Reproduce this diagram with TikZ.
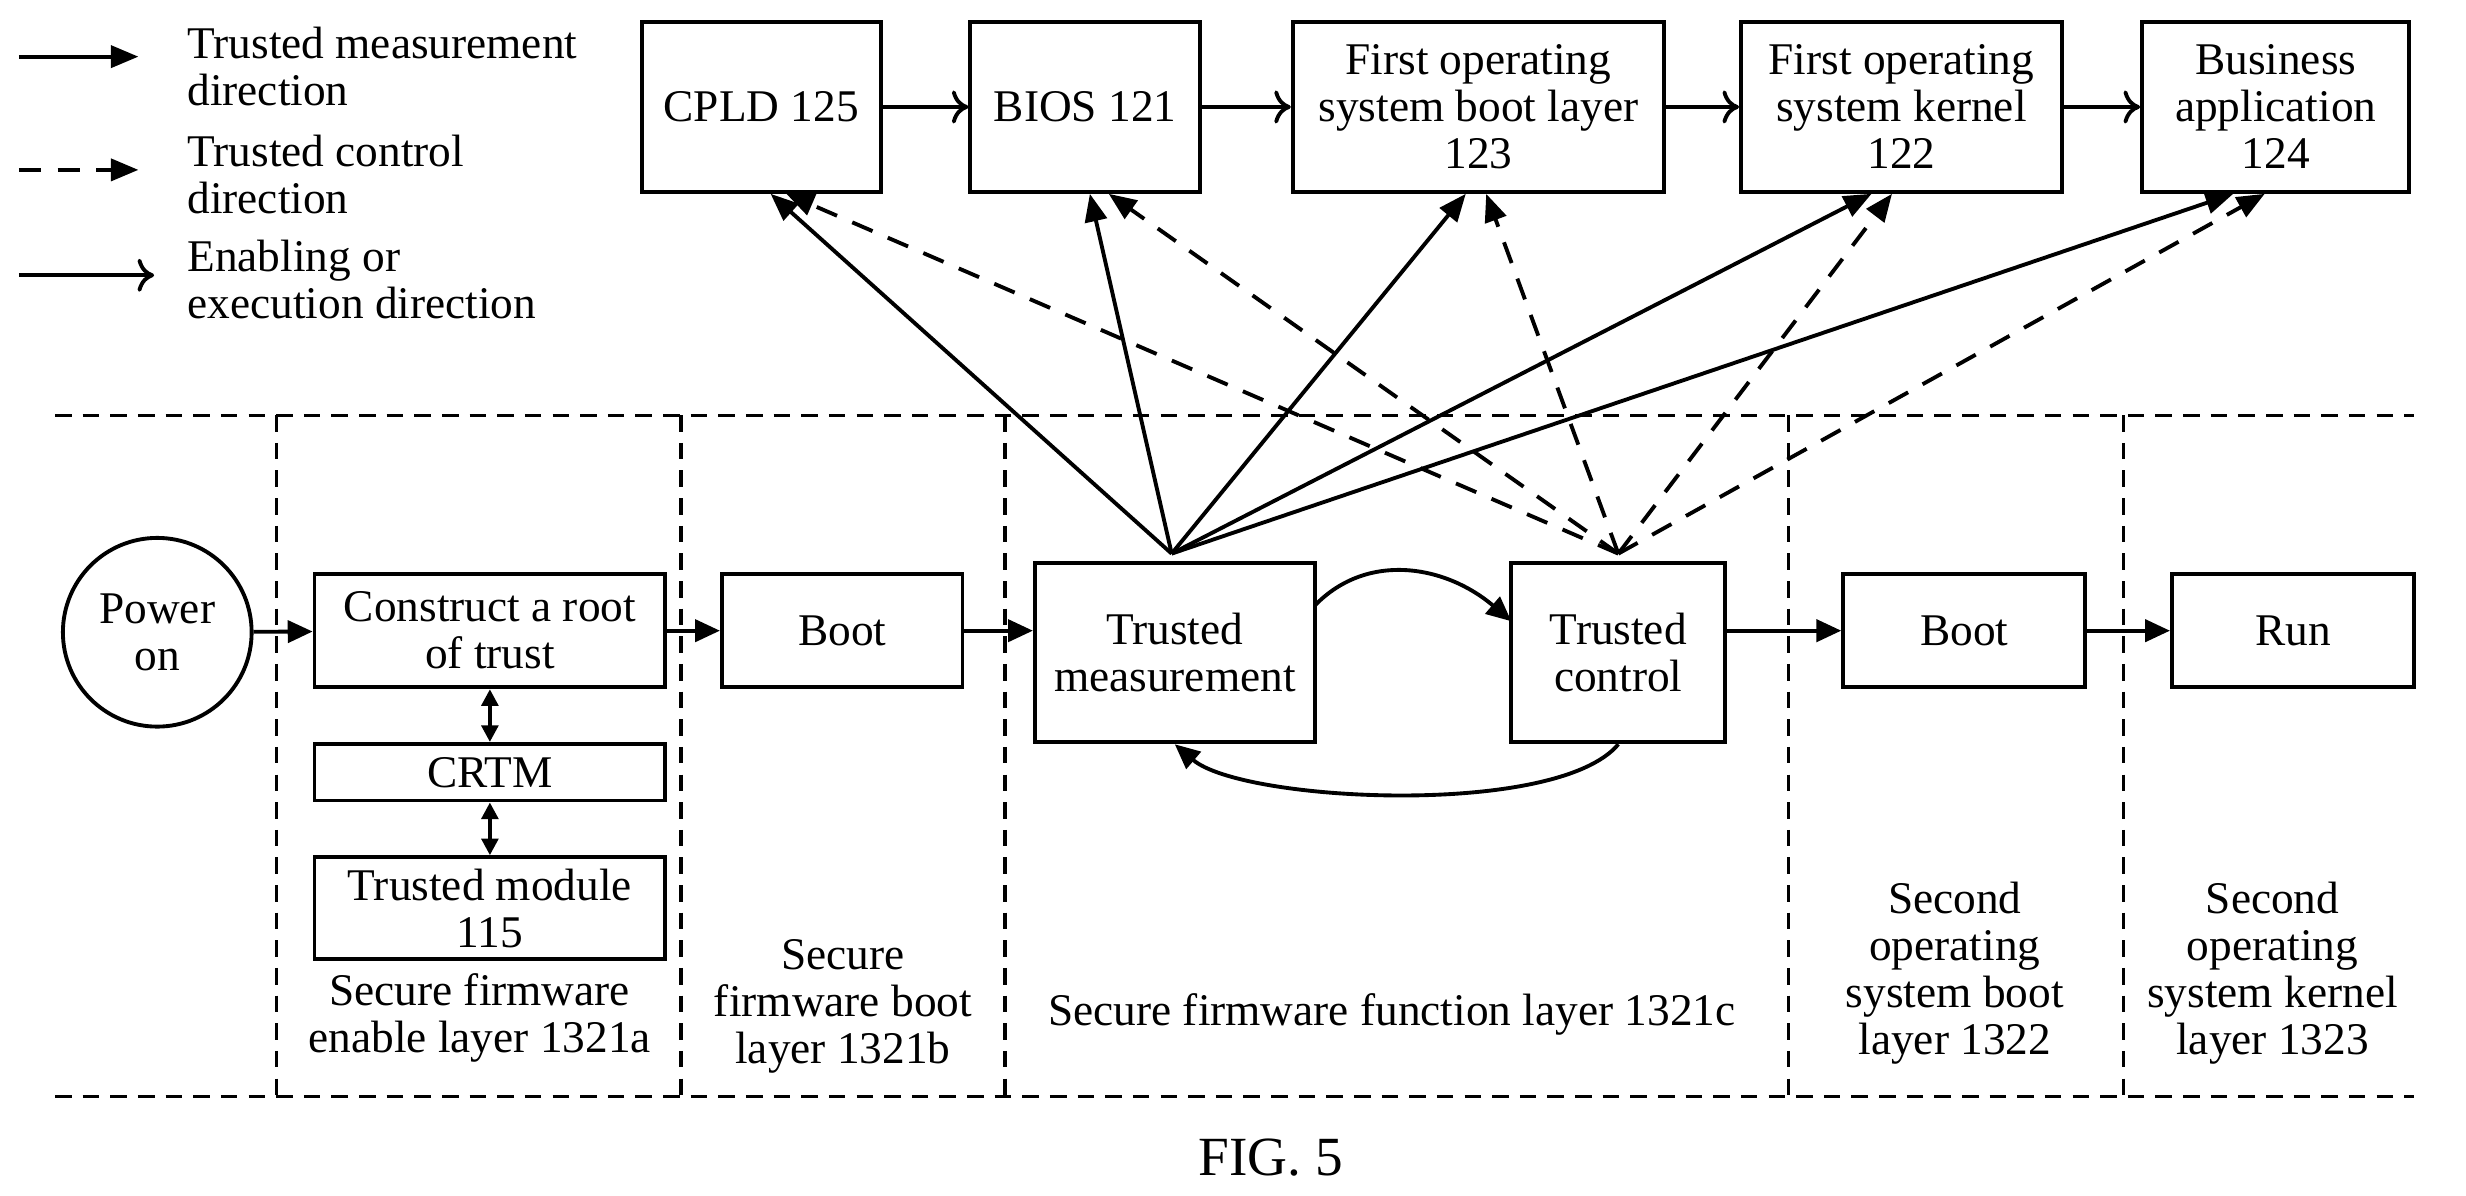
\documentclass[tikz,border=0pt]{standalone}
\usepackage{fontspec}
\setmainfont{Liberation Serif}
\usetikzlibrary{arrows.meta}
\begin{document}
\begin{tikzpicture}[x=0.1mm,y=-0.1mm,line width=0.7pt,
  font=\fontsize{8.2}{8.5}\selectfont,
  box/.style={draw,rectangle,align=center,inner sep=0pt},
  meas/.style={-{Triangle[length=5pt,width=4pt]}},
  ctrl/.style={dashed,dash pattern=on 4pt off 3pt,-{Triangle[length=5pt,width=4pt]}},
  exe/.style={-{To[length=3pt,width=6pt]}},
  fill2/.style={-{Triangle[length=4.5pt,width=4pt]}},
  dbl/.style={{Triangle[length=3pt,width=3pt]}-{Triangle[length=3pt,width=3pt]}},
  sep/.style={dashed,dash pattern=on 3pt off 2pt,line width=0.6pt},
  lbl/.style={align=center,inner sep=0pt}]
\useasboundingbox (0,0) rectangle (1568,760);
% legend
\coordinate (l1a) at (12,36); \coordinate (l1b) at (88,36);
\coordinate (l2a) at (12,108); \coordinate (l2b) at (88,108);
\coordinate (l3a) at (12,175); \coordinate (l3b) at (98,175);
\draw[meas] (l1a) -- (l1b);
\draw[ctrl] (l2a) -- (l2b);
\draw[exe] (l3a) -- (l3b);
\node[anchor=west,align=left,inner sep=0pt] (t1) at (118,42) {Trusted measurement\\direction};
\node[anchor=west,align=left,inner sep=0pt] (t2) at (118,111) {Trusted control\\direction};
\node[anchor=west,align=left,inner sep=0pt] (t3) at (118,178) {Enabling or\\execution direction};
% top boxes
\node[box,minimum width=152*0.1mm,minimum height=108*0.1mm] (cpld) at (484,68) {CPLD 125};
\node[box,minimum width=146*0.1mm,minimum height=108*0.1mm] (bios) at (690,68) {BIOS 121};
\node[box,minimum width=236*0.1mm,minimum height=108*0.1mm] (fosb) at (940,68) {First operating\\system boot layer\\123};
\node[box,minimum width=204*0.1mm,minimum height=108*0.1mm] (fosk) at (1209,68) {First operating\\system kernel\\122};
\node[box,minimum width=170*0.1mm,minimum height=108*0.1mm] (bus) at (1447,68) {Business\\application\\124};
\draw[exe] (cpld) -- (bios);
\draw[exe] (bios) -- (fosb);
\draw[exe] (fosb) -- (fosk);
\draw[exe] (fosk) -- (bus);
% separators
\coordinate (h1a) at (35,264); \coordinate (h1b) at (1535,264);
\coordinate (h2a) at (35,697); \coordinate (h2b) at (1535,697);
\draw[sep] (h1a) -- (h1b); \draw[sep] (h2a) -- (h2b);
\foreach \x/\n in {176/a,433/b,639/c,1137/d,1350/e}{
  \coordinate (v\n1) at (\x,264); \coordinate (v\n2) at (\x,697);
  \draw[sep] (v\n1) -- (v\n2);}
% bottom nodes
\node[draw,circle,minimum size=120*0.1mm,inner sep=0pt,align=center] (pwr) at (100,402) {Power\\on};
\node[box,minimum width=223*0.1mm,minimum height=72*0.1mm] (root) at (311.5,401) {Construct a root\\of trust};
\node[box,minimum width=223*0.1mm,minimum height=36*0.1mm] (crtm) at (311.5,491) {CRTM};
\node[box,minimum width=223*0.1mm,minimum height=65*0.1mm] (tmod) at (311.5,577.5) {Trusted module\\115};
\node[box,minimum width=153*0.1mm,minimum height=72*0.1mm] (boot1) at (535.5,401) {Boot};
\node[box,minimum width=178*0.1mm,minimum height=114*0.1mm] (tm) at (747,415) {Trusted\\measurement};
\node[box,minimum width=136*0.1mm,minimum height=114*0.1mm] (tc) at (1029,415) {Trusted\\control};
\node[box,minimum width=154*0.1mm,minimum height=72*0.1mm] (boot2) at (1249,401) {Boot};
\node[box,minimum width=154*0.1mm,minimum height=72*0.1mm] (run) at (1458,401) {Run};
\draw[fill2] (pwr) -- (root);
\draw[fill2] (root) -- (boot1);
\draw[fill2] (boot1) -- (tm.west |- boot1);
\draw[fill2] (tc.east |- boot2) -- (boot2);
\draw[fill2] (boot2) -- (run);
\draw[dbl] (root) -- (crtm);
\draw[dbl] (crtm) -- (tmod);
\coordinate (c1) at (836,385);
\coordinate (c2) at (961,395);
\draw[fill2] (c1) .. controls (870,350) and (920,360) .. (c2);
\draw[fill2] (tc.south) .. controls (990,520) and (790,510) .. (tm.south);
% measurement arrows
\coordinate (tmt) at (745,352);
\coordinate (tct) at (1029,352);
\draw[meas] (tmt) -- (cpld.south -| 490,0);
\draw[meas] (tmt) -- (bios.south -| 693,0);
\draw[meas] (tmt) -- (fosb.south -| 932,0);
\draw[meas] (tmt) -- (fosk.south -| 1190,0);
\draw[meas] (tmt) -- (bus.south -| 1420,0);
\draw[ctrl] (tct) -- (cpld.south -| 500,0);
\draw[ctrl] (tct) -- (bios.south -| 705,0);
\draw[ctrl] (tct) -- (fosb.south -| 945,0);
\draw[ctrl] (tct) -- (fosk.south -| 1203,0);
\draw[ctrl] (tct) -- (bus.south -| 1440,0);
% labels
\node[lbl] (la) at (305,647) {Secure firmware\\enable layer 1321a};
\node[lbl] (lb) at (536,640) {Secure\\firmware boot\\layer 1321b};
\node[lbl] (lc) at (885,645) {Secure firmware function layer 1321c};
\node[lbl] (ld) at (1243,619) {Second\\operating\\system boot\\layer 1322};
\node[lbl] (le) at (1445,619) {Second\\operating\\system kernel\\layer 1323};
\node[lbl,font=\fontsize{10}{11}\selectfont] (fig) at (808,736) {FIG. 5};
\end{tikzpicture}
\end{document}
